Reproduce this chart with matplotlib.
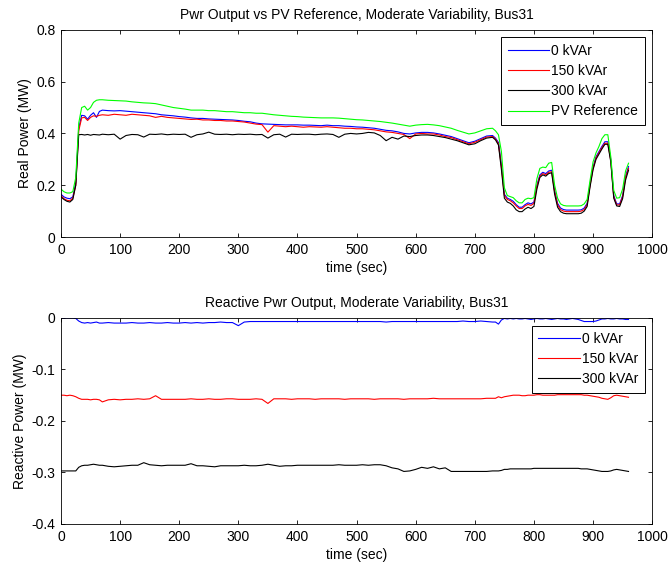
import matplotlib
matplotlib.use('Agg')
import matplotlib.pyplot as plt

# ======================
# VARIABLES
# ======================

plt.rcParams.update({'font.size': 10})
plt.rcParams['font.family'] = ['Liberation Sans', 'DejaVu Sans']
plt.rcParams['axes.unicode_minus'] = False
plt.rcParams['lines.linewidth'] = 0.8

# Time (sec): 5 s steps at the start and end, 10 s in the middle
time_s = list(range(0, 70, 5)) + list(range(70, 735, 10)) + list(range(735, 965, 5))

# Real power (MW)
p_0kvar = [0.165, 0.155, 0.150, 0.148, 0.155, 0.210, 0.420, 0.470, 0.468, 0.455, 0.470, 0.480, 0.462, 0.485,
           0.490, 0.488, 0.487, 0.488, 0.486, 0.484, 0.482, 0.480, 0.478, 0.476,
           0.472, 0.470, 0.468, 0.465, 0.463, 0.460, 0.458, 0.458, 0.456, 0.455,
           0.454, 0.453, 0.452, 0.450, 0.447, 0.445, 0.440, 0.437, 0.436, 0.435,
           0.434, 0.433, 0.433, 0.433, 0.432, 0.432, 0.431, 0.430, 0.432, 0.430,
           0.430, 0.428, 0.427, 0.425, 0.424, 0.422, 0.420, 0.416, 0.412, 0.410,
           0.406, 0.400, 0.398, 0.402, 0.404, 0.404, 0.402, 0.398, 0.393, 0.388,
           0.380, 0.372, 0.364, 0.370, 0.380, 0.390, 0.392,
           0.382, 0.365, 0.280, 0.165, 0.150, 0.145, 0.138, 0.125, 0.115, 0.115,
           0.125, 0.132, 0.128, 0.135, 0.200, 0.240, 0.250, 0.245, 0.255, 0.258,
           0.180, 0.130, 0.112, 0.106, 0.104, 0.104, 0.104, 0.104, 0.104, 0.105,
           0.112, 0.130, 0.205, 0.270, 0.310, 0.330, 0.350, 0.368, 0.368, 0.300,
           0.160, 0.128, 0.128, 0.160, 0.235, 0.272]

p_150kvar = [0.160, 0.148, 0.142, 0.140, 0.150, 0.200, 0.410, 0.460, 0.462, 0.450, 0.462, 0.468, 0.466, 0.470,
             0.472, 0.470, 0.474, 0.472, 0.470, 0.474, 0.472, 0.470, 0.468, 0.462,
             0.466, 0.462, 0.460, 0.458, 0.456, 0.454, 0.455, 0.452, 0.452, 0.450,
             0.450, 0.448, 0.448, 0.446, 0.444, 0.440, 0.436, 0.434, 0.405, 0.430,
             0.428, 0.426, 0.428, 0.426, 0.424, 0.426, 0.425, 0.424, 0.426, 0.424,
             0.422, 0.420, 0.420, 0.418, 0.418, 0.416, 0.414, 0.410, 0.406, 0.404,
             0.400, 0.396, 0.380, 0.398, 0.400, 0.398, 0.398, 0.394, 0.388, 0.384,
             0.376, 0.368, 0.360, 0.366, 0.376, 0.386, 0.388,
             0.378, 0.360, 0.270, 0.160, 0.145, 0.140, 0.132, 0.120, 0.110, 0.110,
             0.120, 0.126, 0.122, 0.130, 0.195, 0.235, 0.245, 0.240, 0.250, 0.252,
             0.175, 0.124, 0.106, 0.100, 0.098, 0.098, 0.098, 0.098, 0.098, 0.100,
             0.106, 0.125, 0.200, 0.265, 0.305, 0.325, 0.345, 0.362, 0.362, 0.295,
             0.155, 0.124, 0.124, 0.155, 0.230, 0.265]

p_300kvar = [0.155, 0.145, 0.138, 0.135, 0.145, 0.200, 0.395, 0.396, 0.394, 0.396, 0.393, 0.396, 0.395, 0.394,
             0.397, 0.395, 0.397, 0.378, 0.392, 0.396, 0.395, 0.386, 0.397, 0.396,
             0.398, 0.395, 0.397, 0.396, 0.397, 0.385, 0.395, 0.398, 0.405, 0.397,
             0.396, 0.397, 0.395, 0.397, 0.396, 0.397, 0.395, 0.396, 0.382, 0.395,
             0.397, 0.386, 0.397, 0.396, 0.397, 0.397, 0.395, 0.397, 0.398, 0.396,
             0.385, 0.397, 0.400, 0.398, 0.400, 0.404, 0.402, 0.392, 0.372, 0.385,
             0.378, 0.390, 0.388, 0.392, 0.394, 0.394, 0.392, 0.388, 0.384, 0.378,
             0.372, 0.364, 0.356, 0.360, 0.372, 0.382, 0.385,
             0.375, 0.355, 0.260, 0.150, 0.135, 0.130, 0.120, 0.105, 0.098, 0.098,
             0.108, 0.115, 0.110, 0.118, 0.185, 0.230, 0.240, 0.235, 0.245, 0.248,
             0.165, 0.115, 0.098, 0.092, 0.090, 0.090, 0.090, 0.090, 0.090, 0.092,
             0.100, 0.118, 0.195, 0.260, 0.300, 0.320, 0.340, 0.358, 0.358, 0.290,
             0.150, 0.120, 0.118, 0.148, 0.220, 0.258]

p_pv_ref = [0.185, 0.175, 0.170, 0.170, 0.175, 0.230, 0.440, 0.500, 0.505, 0.490, 0.500, 0.520, 0.528, 0.530,
            0.530, 0.528, 0.527, 0.526, 0.525, 0.522, 0.520, 0.518, 0.517, 0.515,
            0.510, 0.505, 0.500, 0.497, 0.494, 0.490, 0.490, 0.490, 0.488, 0.488,
            0.486, 0.484, 0.484, 0.482, 0.480, 0.480, 0.478, 0.478, 0.475, 0.472,
            0.470, 0.468, 0.466, 0.465, 0.463, 0.462, 0.461, 0.460, 0.460, 0.460,
            0.459, 0.457, 0.455, 0.453, 0.452, 0.450, 0.448, 0.446, 0.443, 0.440,
            0.436, 0.432, 0.428, 0.432, 0.434, 0.435, 0.433, 0.430, 0.425, 0.420,
            0.412, 0.405, 0.398, 0.402, 0.410, 0.418, 0.420,
            0.410, 0.395, 0.330, 0.190, 0.160, 0.156, 0.152, 0.140, 0.132, 0.132,
            0.145, 0.150, 0.148, 0.152, 0.225, 0.265, 0.270, 0.268, 0.285, 0.288,
            0.200, 0.150, 0.128, 0.122, 0.120, 0.120, 0.120, 0.120, 0.120, 0.121,
            0.128, 0.145, 0.220, 0.290, 0.325, 0.350, 0.380, 0.395, 0.395, 0.310,
            0.180, 0.150, 0.152, 0.185, 0.255, 0.285]

# Reactive power (MW)
q_0kvar = [0.000, 0.000, 0.000, 0.000, 0.000, -0.001, -0.006, -0.009, -0.010, -0.009, -0.010, -0.009, -0.008, -0.010,
           -0.010, -0.009, -0.010, -0.010, -0.010, -0.009, -0.010, -0.010, -0.009, -0.010,
           -0.010, -0.009, -0.010, -0.010, -0.009, -0.010, -0.009, -0.010, -0.009, -0.009,
           -0.008, -0.009, -0.009, -0.015, -0.008, -0.007, -0.007, -0.007, -0.007, -0.007,
           -0.007, -0.007, -0.007, -0.007, -0.007, -0.007, -0.007, -0.007, -0.007, -0.007,
           -0.007, -0.007, -0.007, -0.007, -0.007, -0.007, -0.007, -0.007, -0.008, -0.007,
           -0.007, -0.007, -0.007, -0.007, -0.007, -0.007, -0.007, -0.007, -0.007, -0.007,
           -0.007, -0.006, -0.007, -0.007, -0.006, -0.007, -0.008,
           -0.008, -0.012, -0.004, -0.001, -0.002, -0.001, -0.002, -0.001, -0.002, -0.002,
           -0.001, -0.002, -0.003, -0.002, -0.001, -0.002, -0.002, -0.001, -0.002, -0.003,
           -0.002, -0.001, -0.002, -0.002, -0.003, -0.002, -0.001, -0.002, -0.003, -0.005,
           -0.007, -0.007, -0.007, -0.007, -0.006, -0.004, -0.002, -0.002, -0.001, -0.002,
           -0.002, -0.001, -0.002, -0.002, -0.003, -0.003]

q_150kvar = [-0.150, -0.150, -0.151, -0.150, -0.151, -0.153, -0.156, -0.158, -0.158, -0.158, -0.159, -0.158, -0.158, -0.159,
             -0.163, -0.159, -0.158, -0.159, -0.158, -0.158, -0.157, -0.158, -0.157, -0.151,
             -0.158, -0.158, -0.158, -0.158, -0.158, -0.157, -0.158, -0.158, -0.157, -0.158,
             -0.158, -0.157, -0.157, -0.158, -0.158, -0.158, -0.157, -0.158, -0.166, -0.157,
             -0.157, -0.157, -0.158, -0.157, -0.157, -0.157, -0.158, -0.157, -0.157, -0.157,
             -0.157, -0.158, -0.157, -0.157, -0.157, -0.157, -0.158, -0.157, -0.157, -0.157,
             -0.157, -0.158, -0.157, -0.157, -0.157, -0.157, -0.156, -0.157, -0.157, -0.157,
             -0.157, -0.157, -0.157, -0.157, -0.157, -0.156, -0.156,
             -0.156, -0.153, -0.155, -0.153, -0.152, -0.151, -0.150, -0.150, -0.150, -0.151,
             -0.151, -0.150, -0.150, -0.150, -0.149, -0.149, -0.150, -0.150, -0.150, -0.150,
             -0.150, -0.149, -0.149, -0.149, -0.149, -0.149, -0.149, -0.149, -0.149, -0.149,
             -0.150, -0.150, -0.151, -0.152, -0.153, -0.154, -0.156, -0.157, -0.158, -0.155,
             -0.151, -0.150, -0.151, -0.152, -0.153, -0.154]

q_300kvar = [-0.297, -0.297, -0.297, -0.297, -0.297, -0.297, -0.290, -0.287, -0.286, -0.286, -0.285, -0.284, -0.285, -0.286,
             -0.286, -0.288, -0.289, -0.288, -0.287, -0.286, -0.286, -0.281, -0.285, -0.286,
             -0.287, -0.286, -0.286, -0.286, -0.286, -0.283, -0.287, -0.287, -0.288, -0.289,
             -0.287, -0.287, -0.287, -0.287, -0.286, -0.287, -0.287, -0.286, -0.284, -0.286,
             -0.288, -0.287, -0.287, -0.286, -0.286, -0.286, -0.286, -0.286, -0.286, -0.286,
             -0.285, -0.286, -0.286, -0.286, -0.285, -0.286, -0.285, -0.285, -0.287, -0.291,
             -0.293, -0.298, -0.297, -0.294, -0.290, -0.292, -0.289, -0.293, -0.291, -0.298,
             -0.298, -0.298, -0.298, -0.298, -0.298, -0.298, -0.297,
             -0.297, -0.297, -0.296, -0.294, -0.294, -0.293, -0.293, -0.293, -0.293, -0.293,
             -0.293, -0.293, -0.293, -0.292, -0.292, -0.292, -0.292, -0.292, -0.292, -0.292,
             -0.292, -0.292, -0.292, -0.292, -0.292, -0.292, -0.292, -0.292, -0.292, -0.293,
             -0.293, -0.293, -0.294, -0.295, -0.296, -0.297, -0.298, -0.298, -0.298, -0.297,
             -0.295, -0.294, -0.295, -0.296, -0.297, -0.298]

x_ticks = list(range(0, 1001, 100))
p_ticks = [0, 0.2, 0.4, 0.6, 0.8]
q_ticks = [0, -0.1, -0.2, -0.3, -0.4]

# ======================
# FUNCTIONS
# ======================

def style_axes(ax):
    ax.tick_params(direction='in', length=3, width=0.6, top=True, right=True, pad=4)
    for sp in ax.spines.values():
        sp.set_linewidth(0.6)


def make_legend(ax):
    leg = ax.legend(loc='upper right', fontsize=10, handlelength=3.0, handletextpad=0.15,
                    labelspacing=0.45, borderpad=0.45, borderaxespad=0.55,
                    fancybox=False, framealpha=1, edgecolor='black')
    leg.get_frame().set_linewidth(0.7)


def generate_graph():
    fig = plt.figure(figsize=(6.68, 5.63), dpi=100)
    ax1 = fig.add_axes([0.0913, 0.579, 0.885, 0.368])
    ax2 = fig.add_axes([0.0913, 0.0693, 0.885, 0.366])

    # Real power
    ax1.plot(time_s, p_0kvar, label='0 kVAr', color='#0000ff')
    ax1.plot(time_s, p_150kvar, label='150 kVAr', color='#ff0000')
    ax1.plot(time_s, p_300kvar, label='300 kVAr', color='black')
    ax1.plot(time_s, p_pv_ref, label='PV Reference', color='#00ff00')
    ax1.set_xlim(0, 1000)
    ax1.set_ylim(0, 0.8)
    ax1.set_xticks(x_ticks)
    ax1.set_yticks(p_ticks)
    ax1.set_yticklabels(['0', '0.2', '0.4', '0.6', '0.8'])
    ax1.set_xlabel('time (sec)', labelpad=3)
    ax1.set_ylabel('Real Power (MW)', labelpad=3)
    ax1.set_title('Pwr Output vs PV Reference, Moderate Variability, Bus31', fontsize=10, pad=8)
    style_axes(ax1)
    make_legend(ax1)

    # Reactive power
    ax2.plot(time_s, q_0kvar, label='0 kVAr', color='#0000ff')
    ax2.plot(time_s, q_150kvar, label='150 kVAr', color='#ff0000')
    ax2.plot(time_s, q_300kvar, label='300 kVAr', color='black')
    ax2.set_xlim(0, 1000)
    ax2.set_ylim(-0.4, 0)
    ax2.set_xticks(x_ticks)
    ax2.set_yticks(q_ticks)
    ax2.set_yticklabels(['0', '-0.1', '-0.2', '-0.3', '-0.4'])
    ax2.set_xlabel('time (sec)', labelpad=3)
    ax2.set_ylabel('Reactive Power (MW)', labelpad=3)
    ax2.set_title('Reactive Pwr Output, Moderate Variability, Bus31', fontsize=10, pad=8)
    style_axes(ax2)
    make_legend(ax2)

    fig.savefig('out.png', dpi=100)

# ======================
# MAIN
# ======================

if __name__ == '__main__':
    generate_graph()
